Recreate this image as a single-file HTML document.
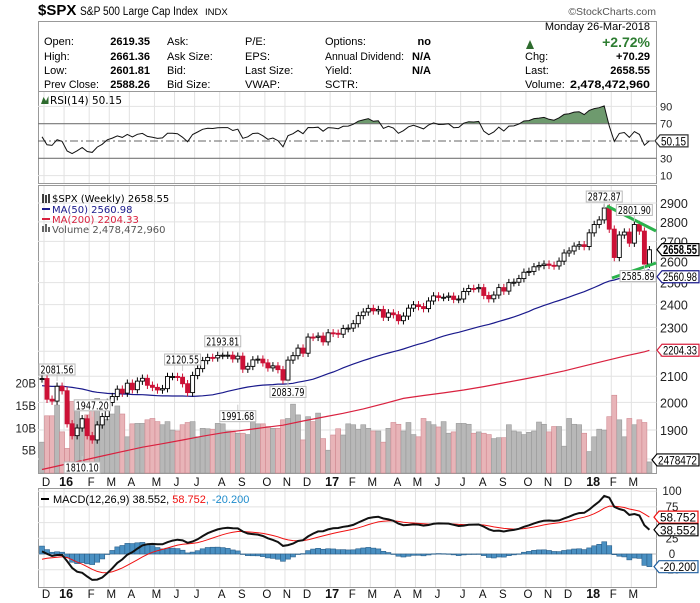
<!DOCTYPE html>
<html><head><meta charset="utf-8">
<style>
html,body{margin:0;padding:0;background:#fff;}
svg{display:block;}
.n{font-family:"Liberation Sans",sans-serif;}
.s{font-family:"Liberation Sans",sans-serif;}
.d{font-family:"DejaVu Sans","Liberation Sans",sans-serif;}
</style></head>
<body>
<svg id="chart" width="700" height="603" viewBox="0 0 700 603" xmlns="http://www.w3.org/2000/svg">
<text x="38" y="15" class="s" font-size="15" font-weight="bold" fill="#000">$SPX</text>
<text x="80" y="15" class="n" font-size="11.5" fill="#000" textLength="118" lengthAdjust="spacingAndGlyphs">S&amp;P 500 Large Cap Index</text>
<text x="205" y="15" class="n" font-size="9.5" fill="#000">INDX</text>
<text x="656" y="15" class="n" font-size="10.5" fill="#555" text-anchor="end">©StockCharts.com</text>
<g>
<rect x="38.5" y="21.5" width="618" height="70" fill="#fff" stroke="#999"/>
<g class="n" font-size="11" fill="#000">
<text x="650" y="30" text-anchor="end">Monday  26-Mar-2018</text>
<text x="44" y="45">Open:</text>
<text x="150" y="45" text-anchor="end" font-weight="bold">2619.35</text>
<text x="44" y="60">High:</text>
<text x="150" y="60" text-anchor="end" font-weight="bold">2661.36</text>
<text x="44" y="74">Low:</text>
<text x="150" y="74" text-anchor="end" font-weight="bold">2601.81</text>
<text x="44" y="88" textLength="55" lengthAdjust="spacingAndGlyphs">Prev Close:</text>
<text x="150" y="88" text-anchor="end" font-weight="bold">2588.26</text>
<text x="167" y="45">Ask:</text>
<text x="167" y="60">Ask Size:</text>
<text x="167" y="74">Bid:</text>
<text x="167" y="88">Bid Size:</text>
<text x="245" y="45">P/E:</text>
<text x="245" y="60">EPS:</text>
<text x="245" y="74">Last Size:</text>
<text x="245" y="88">VWAP:</text>
<text x="325" y="45">Options:</text>
<text x="325" y="60" textLength="79" lengthAdjust="spacingAndGlyphs">Annual Dividend:</text>
<text x="325" y="74">Yield:</text>
<text x="325" y="88">SCTR:</text>
<text x="431" y="45" text-anchor="end" font-weight="bold">no</text>
<text x="431" y="60" text-anchor="end" font-weight="bold">N/A</text>
<text x="431" y="74" text-anchor="end" font-weight="bold">N/A</text>
<polygon points="526,49 530,40 534,49" fill="#2e6b2e"/>
<text x="650" y="47" text-anchor="end" font-weight="bold" font-size="14" fill="#2e7d32">+2.72%</text>
<text x="525" y="60">Chg:</text>
<text x="650" y="60" text-anchor="end" font-weight="bold">+70.29</text>
<text x="525" y="74">Last:</text>
<text x="650" y="74" text-anchor="end" font-weight="bold">2658.55</text>
<text x="525" y="88">Volume:</text>
<text x="650" y="88" text-anchor="end" font-weight="bold" textLength="80" lengthAdjust="spacingAndGlyphs">2,478,472,960</text>
</g>
</g>
<g id="rsi"></g>
<g id="price"></g>
<g id="macd"></g>
</svg>
<script>
// ---- data ----
const preCloses = [2088,2058,2044,2019,2051,1995,2055,2097,2110,2104,2071,2053,2108,2061,2067,2102,2081,2117,2108,2116,2123,2126,2107,2092,2094,2110,2102,2077,2077,2127,2080,2104,2078,2092,1971,1989,1921,1961,1958,1931,1951,2014,2033,2075,2079,2099,2023,2089,2090];
const closes = [2091,2012,2005,2061,2044,
1922,1880,1907,1940,1880,1865,1918,1948,2000,2022,2050,2035,2073,2048,2081,2092,2065,2057,2047,2052,2099,2099,2096,2071,2037,2103,2130,2162,2175,2173,2183,2184,2184,2169,2180,2128,2139,2165,2168,2153,2133,2141,2126,2085,2164,2182,2213,2192,2259,2258,2263,2239,
2277,2275,2271,2295,2297,2316,2351,2367,2383,2372,2378,2344,2363,2355,2329,2349,2384,2399,2391,2382,2416,2439,2432,2433,2438,2423,2425,2459,2473,2472,2477,2441,2426,2443,2477,2461,2500,2502,2519,2549,2553,2575,2581,2588,2582,2579,2602,2642,2652,2676,2683,2674,
2743,2786,2810,2873,2762,2620,2732,2747,2691,2786,2752,2588,2658];
const volumes = [6.9,12.8,12.8,15.2,9.2,5.5,16,14,12.2,13,16.3,16.7,10.8,12,13.2,15,13.2,8.1,11,11.1,11.1,11.9,12.2,11.5,10.8,11.5,9.6,9.4,10.8,11.3,11.5,8.1,10,9.9,9.8,11.1,11,9.4,9.4,8.9,8.9,8.6,12.8,11,11,10.4,10,10,11.9,12.2,15.4,13,7.4,12.6,11.5,13.4,7.7,5.1,8.5,9.9,8.5,11,
10.8,9.8,10.8,10,9.4,9.4,6.9,10,11.3,10.9,9.4,11.3,8.6,8.1,12.2,11.5,10.8,10.3,11.5,8.9,9.2,11.1,11.1,10.9,8.9,9.2,8.9,8.6,7.7,7.9,7.9,10.8,9.4,9.2,8.6,9.1,9.4,11.4,10.9,9.2,10.4,10.4,6,12.2,10.9,10.8,8.9,4.8,8.1,9.8,9.6,12.6,17.4,11.9,8.1,12.2,10.8,11.9,11.3,2.48];
const ma200 = [1765,1780,1795,1810,1825,1840,1852,1865,1878,1890,1899,1908,1917,1932,1946,1960,1976,1995,2015,2026,2036,2047,2060,2074,2089,2104,2121,2141,2160,2180,2198,2204];
const annIdx = [3,8,10,28,36,39,49,112,118,120];
const annVal = ["2081.56","1810.10","1947.20","2120.55","2193.81","1991.68","2083.79","2872.87","2801.90","2585.89"];
const annPrice = [2081.56,1810.10,1947.20,2120.55,2193.81,1991.68,2083.79,2872.87,2801.90,2585.89];
const annSide = ["up","down","up","up","up","down","down","up","up","down"];
const priceTicks = [1800,1900,2000,2100,2200,2300,2400,2500,2600,2700,2800,2900];
const volTicks = [5,10,15,20];
const rsiTicks = [10,30,70,90];
const macdTicks = [-25,0,25,50,75,100];
const tagVals = {last:2658.55, ma50:2560.98, ma200:2204.33, vol:2.478, rsi:50.15, macd:38.552, signal:58.752, hist:-20.200};
const startDate = new Date(2015,11,4);

// ---- scales ----
const X0=38, X1=656.5;
const xI = i => 42 + i*5.02;
const yP = p => 4482.6 - 536.8*Math.log(p);
const yV = v => 473 - v*4.47;
const yR = r => 141 - (r-50)*0.865;
const yM = m => 554 - m*0.628;
const NS='http://www.w3.org/2000/svg';
function mk(parent, tag, attrs, text){const e=document.createElementNS(NS,tag);for(const k in attrs)e.setAttribute(k,attrs[k]);if(text!==undefined)e.textContent=text;parent.appendChild(e);return e;}

// ---- indicators ----
const all = preCloses.concat(closes);
const P = preCloses.length;
const n = closes.length;
const opens = closes.map((c,i)=> all[P+i-1]);
const highs = closes.map((c,i)=> Math.max(c,opens[i])*1.007);
const lows = closes.map((c,i)=> Math.min(c,opens[i])*0.993);
const ma50 = closes.map((c,i)=>{let s=0;for(let j=P+i-49;j<=P+i;j++)s+=all[j];return s/50;});
const rsiAll=[];{let g=0,l=0;for(let j=1;j<=14;j++){const d=all[j]-all[j-1];if(d>0)g+=d;else l-=d;}g/=14;l/=14;
for(let j=0;j<all.length;j++){if(j>14){const d=all[j]-all[j-1];g=(g*13+Math.max(d,0))/14;l=(l*13+Math.max(-d,0))/14;}rsiAll.push(100-100/(1+g/(l||1e-9)));}}
const rsi = rsiAll.slice(P);
const macdAll=[],sigAll=[];{let e12=all[0],e26=all[0],s=0;for(let j=0;j<all.length;j++){e12+= (all[j]-e12)*2/13;e26+=(all[j]-e26)*2/27;const m=e12-e26;macdAll.push(m);s = j===0?m:s+(m-s)*0.2;sigAll.push(s);}}
const macd = macdAll.slice(P), signal = sigAll.slice(P);
const hist = macd.map((m,i)=>m-signal[i]);

const months=[];
for(let i=0;i<n;i++){const d=new Date(startDate.getTime()+i*7*86400000);const pd=i?new Date(startDate.getTime()+(i-1)*7*86400000):null;
 if(!pd||pd.getMonth()!==d.getMonth()){const L="JFMAMJJASOND"[d.getMonth()];months.push({i, label:d.getMonth()===0?String(d.getFullYear()).slice(2):L, year:d.getMonth()===0});}}

function vgrid(g,y0,y1){months.forEach(m=>{const l=mk(g,'line',{x1:xI(m.i)+2,x2:xI(m.i)+2,y1:y0,y2:y1,stroke:'#e2e2e2','stroke-width':1});

});}
function tag(g,x,y,w,txt,color,bold,name){const p=mk(g,'polygon',{points:`${x},${y} ${x+5},${y-6} ${x+w},${y-6} ${x+w},${y+6} ${x+5},${y+6}`,fill:'#fff',stroke:color,'stroke-width':1.2});


const t=mk(g,'text',{x:x+6,y:y+4.5,'font-size':bold?12.5:12,'font-weight':bold?'bold':'normal',fill:'#000',class:'s',textLength:w-8,lengthAdjust:'spacingAndGlyphs'},txt);

}

// ---- RSI panel ----
{const g=document.getElementById('rsi');
 mk(g,'rect',{x:38.5,y:91.5,width:618,height:92,fill:'#fff',stroke:'#999'});
 vgrid(g,92,183);
 [10,90].forEach(v=>mk(g,'line',{x1:X0,x2:X1,y1:yR(v),y2:yR(v),stroke:'#e2e2e2'}));
 const pts=rsi.map((r,i)=>`${xI(i).toFixed(1)},${yR(r).toFixed(1)}`);
 const cpp=mk(g,'clipPath',{id:'ob'});
 mk(cpp,'rect',{x:0,y:0,width:700,height:yR(70)});
 const area=mk(g,'path',{d:`M${xI(0)},${yR(70)} L${pts.join(' L')} L${xI(n-1)},${yR(70)} Z`,fill:'#6e9a6e',stroke:'none','clip-path':'url(#ob)'});
 
 
 mk(g,'line',{x1:X0,x2:X1,y1:yR(70),y2:yR(70),stroke:'#777','stroke-width':1.2});
 mk(g,'line',{x1:X0,x2:X1,y1:yR(30),y2:yR(30),stroke:'#777','stroke-width':1.2});
 mk(g,'line',{x1:X0,x2:X1,y1:yR(50),y2:yR(50),stroke:'#666','stroke-dasharray':'8,3,2,3'});
 const line=mk(g,'polyline',{points:pts.join(' '),fill:'none',stroke:'#111','stroke-width':1});
 
 
 rsiTicks.forEach(v=>{const t=mk(g,'text',{x:660,y:yR(v)+4,'font-size':11,class:'n',fill:'#222'},String(v));
 
 });
 mk(g,'polygon',{points:'41,104 43.5,97 46,101 48.5,96 48.5,104',fill:'#2e6b2e'});
 const lb=mk(g,'text',{x:50,y:104,'font-size':10.5,class:'d',fill:'#000'},'RSI(14) 50.15');
 
 
 tag(g,655,yR(tagVals.rsi),33,'50.15','#333',false,'rsi-value');
}

// ---- price panel ----
{const g=document.getElementById('price');
 mk(g,'rect',{x:38.5,y:185.5,width:618,height:288,fill:'#fff',stroke:'#999'});
 vgrid(g,186,473);
 priceTicks.forEach(p=>{mk(g,'line',{x1:X0,x2:X1,y1:yP(p),y2:yP(p),stroke:'#e2e2e2'});
  const t=mk(g,'text',{x:660,y:yP(p)+5,'font-size':12.5,class:'n',fill:'#222'},String(p));
  
  });
 volTicks.forEach(v=>{const t=mk(g,'text',{x:36,y:yV(v)+4,'font-size':11.5,class:'n',fill:'#222','text-anchor':'end'},v+'B');
  
  });
 volumes.forEach((v,i)=>{const down=closes[i]<opens[i];const r=mk(g,'rect',{x:xI(i)-2.5,y:yV(v),width:5,height:473-yV(v),fill:down?'#e8b4b8':'#b8b8b8',stroke:down?'#d08890':'#999','stroke-width':0.6});
  
  });
 const m2=mk(g,'polyline',{points:ma200.map((v,k)=>`${xI(Math.min(k*4,n-1)).toFixed(1)},${yP(v).toFixed(1)}`).join(' '),fill:'none',stroke:'#d9213f','stroke-width':1.2});
 
 
 const m5=mk(g,'polyline',{points:ma50.map((v,i)=>`${xI(i).toFixed(1)},${yP(v).toFixed(1)}`).join(' '),fill:'none',stroke:'#1a1a8c','stroke-width':1.2});
 
 
 closes.forEach((c,i)=>{const o=opens[i],x=xI(i),down=c<o;const col=down?'#cc1136':'#000';
  const w=mk(g,'line',{x1:x,x2:x,y1:yP(highs[i]),y2:yP(lows[i]),stroke:col,'stroke-width':1});
  
  
  const top=yP(Math.max(o,c)),bot=yP(Math.min(o,c));
  const b=mk(g,'rect',{x:x-2,y:top,width:4,height:Math.max(bot-top,1),fill:down?'#cc1136':'#fff',stroke:col,'stroke-width':0.9});
  
  });
 const t1=mk(g,'line',{x1:607,y1:206,x2:656,y2:231,stroke:'#2bb24c','stroke-width':3});
 
 
 const t2=mk(g,'line',{x1:612,y1:278,x2:656,y2:263,stroke:'#2bb24c','stroke-width':3});
 
 
 annIdx.forEach((i,k)=>{const x=xI(i),y=yP(annPrice[k]);const up=annSide[k]==='up';const by=up?y-17:y+6;
  const bx=Math.min(x-18,620);
  mk(g,'line',{x1:x,x2:x,y1:y,y2:up?by+10:by,stroke:'#ccc'});
  const r=mk(g,'rect',{x:bx,y:by,width:36,height:11,fill:'#fff',stroke:'#bbb'});
  
  
  const t=mk(g,'text',{x:bx+18,y:by+9.5,'font-size':11,class:'d','text-anchor':'middle',fill:'#000','textLength':33,lengthAdjust:'spacingAndGlyphs'},annVal[k]);
  
  });
 const lg=[['$SPX (Weekly) 2658.55','#000',198,'price-legend'],['MA(50) 2560.98','#1a1a8c',209,'ma50-legend'],['MA(200) 2204.33','#d9213f',219,'ma200-legend'],['Volume 2,478,472,960','#555',229,'volume-legend']];
 lg.forEach(([t,c,y,nm])=>{const e=mk(g,'text',{x:52,y:y+4,'font-size':10,class:'d',fill:c},t);
  
  });
 mk(g,'line',{x1:42,x2:50,y1:209,y2:209,stroke:'#1a1a8c','stroke-width':2});
 mk(g,'line',{x1:42,x2:50,y1:219,y2:219,stroke:'#d9213f','stroke-width':2});
 mk(g,'rect',{x:42,y:226,width:2,height:6,fill:'#666'});mk(g,'rect',{x:45,y:224,width:2,height:8,fill:'#666'});mk(g,'rect',{x:48,y:227,width:2,height:5,fill:'#666'});
 mk(g,'path',{d:'M43,194 v9 M46,195 v8 M49,194 v9',stroke:'#000','stroke-width':1.5});
 tag(g,657,yP(tagVals.last),42,'2658.55','#000',true,'last-price');
 tag(g,657,yP(tagVals.ma50)+7,42,'2560.98','#1a1a8c',false,'ma50-value');
 tag(g,657,yP(tagVals.ma200),42,'2204.33','#d9213f',false,'ma200-value');
 tag(g,652,yV(tagVals.vol)-2,47,'2478472','#000',false,'volume-value');
 months.forEach(m=>{const t=mk(g,'text',{x:xI(m.i)+4,y:486,'font-size':m.year?12.5:11.5,'font-weight':m.year?'bold':'normal','text-anchor':'middle',class:'n',fill:'#111'},m.label);
  
  });
}

// ---- MACD panel ----
{const g=document.getElementById('macd');
 mk(g,'rect',{x:38.5,y:488.5,width:618,height:99,fill:'#fff',stroke:'#999'});
 vgrid(g,489,587);
 macdTicks.forEach(v=>{mk(g,'line',{x1:X0,x2:X1,y1:yM(v),y2:yM(v),stroke:v===0?'#bbb':'#e2e2e2'});
  const t=mk(g,'text',{x:672,y:yM(v)+4,'font-size':11.5,class:'n',fill:'#222','text-anchor':'middle'},String(v));
  
  });
 hist.forEach((h,i)=>{const y0=yM(0),y1=yM(h);const r=mk(g,'rect',{x:xI(i)-2.5,y:Math.min(y0,y1),width:5,height:Math.max(Math.abs(y1-y0),0.5),fill:'#4a90c2',stroke:'#2a5f8a','stroke-width':0.6});
  
  });
 const s=mk(g,'polyline',{points:signal.map((v,i)=>`${xI(i).toFixed(1)},${yM(v).toFixed(1)}`).join(' '),fill:'none',stroke:'#f01010','stroke-width':1});
 
 
 const m=mk(g,'polyline',{points:macd.map((v,i)=>`${xI(i).toFixed(1)},${yM(v).toFixed(1)}`).join(' '),fill:'none',stroke:'#111','stroke-width':2});
 
 
 mk(g,'line',{x1:41,x2:49,y1:499,y2:499,stroke:'#000','stroke-width':2});
 const t=mk(g,'text',{x:53,y:503,'font-size':11,class:'s',fill:'#000'});
 
 
 mk(t,'tspan',{},'MACD(12,26,9) 38.552, ');mk(t,'tspan',{fill:'#f01010'},'58.752');mk(t,'tspan',{fill:'#1f8ccc'},', -20.200');
 tag(g,654,yM(tagVals.signal),44,'58.752','#f01010',false,'macd-signal-value');
 tag(g,654,yM(tagVals.macd),44,'38.552','#000',false,'macd-value');
 tag(g,654,yM(tagVals.hist),44,'-20.200','#1f5fa0',false,'macd-histogram-value');
 months.forEach(mm=>{const l=mk(g,'text',{x:xI(mm.i)+4,y:598,'font-size':mm.year?12.5:11.5,'font-weight':mm.year?'bold':'normal','text-anchor':'middle',class:'n',fill:'#111'},mm.label);
  
  });
}
</script>
</body></html>
